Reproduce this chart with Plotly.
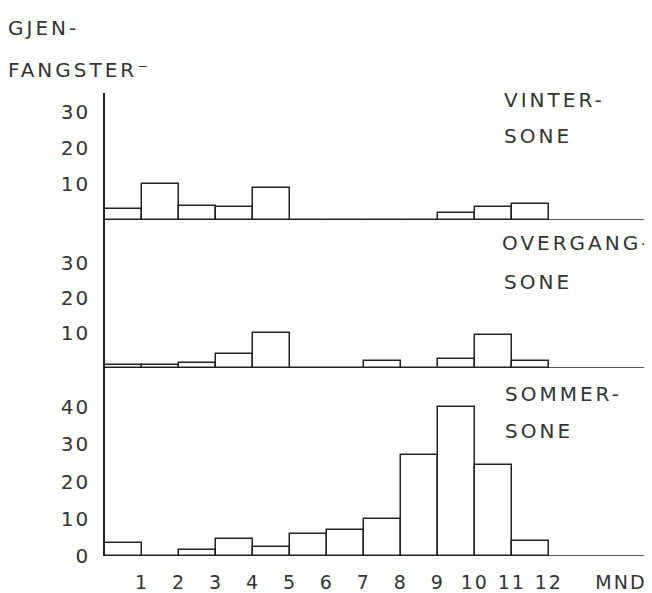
import plotly.graph_objects as go

months = list(range(1, 13))
tick_labels = [str(m) for m in months] + ["MND"]
vinter = [3, 10, 4, 3.5, 9, 0, 0, 0, 0, 2, 3.5, 4.5]
overgang = [1, 1, 1.5, 4, 10, 0, 0, 2, 0, 2.5, 9.5, 2]
sommer = [3.5, 0, 1.5, 4.5, 2.5, 6, 7, 10, 27, 40, 24.5, 4]
y_ticks_small = [10, 20, 30]
y_ticks_sommer = [0, 10, 20, 30, 40]

FONT = "DejaVu Sans"
TXT = "#333333"
LINE = "#222222"

# the page body adds an 8px offset; the figure is sized to fit inside it
OFF = 8
W, H = 652 - OFF, 593 - OFF

def fy(py):
    return 1 - (py - OFF) / H

fig = go.Figure()
for vals, ax in [(vinter, "y"), (overgang, "y2"), (sommer, "y3")]:
    fig.add_trace(go.Bar(
        x=[m - 0.5 for m in months], y=vals, width=1, xaxis="x", yaxis=ax,
        marker=dict(color="white", line=dict(color=LINE, width=1.5)),
        showlegend=False, hoverinfo="skip"))

def sp(t, s=3):
    return f'<span style="letter-spacing:{s}px">{t}</span>'

def yax(ticks):
    return dict(showline=True, linecolor=LINE, linewidth=1.5, showgrid=False,
                zeroline=False, ticks="outside", ticklen=9,
                tickcolor="rgba(0,0,0,0)", anchor="x", automargin=False,
                tickmode="array", tickvals=ticks,
                ticktext=[sp(str(t), 2) for t in ticks],
                tickfont=dict(family=FONT, size=20, color=TXT))

fig.update_layout(
    width=W, height=H,
    margin=dict(l=105 - OFF, r=W - (645 - OFF), t=0, b=0),
    paper_bgcolor="white", plot_bgcolor="white",
    bargap=0,
    xaxis=dict(range=[0, 14.6], anchor="y3", showgrid=False, zeroline=False,
               showline=False, tickmode="array", automargin=False,
               tickvals=months + [13.95],
               ticktext=[sp(t, 2) for t in tick_labels],
               ticks="outside", ticklen=9, tickcolor="rgba(0,0,0,0)",
               tickfont=dict(family=FONT, size=19, color=TXT)),
    yaxis=dict(domain=[fy(220), fy(93)], range=[0, 35.3],
               **yax(y_ticks_small)),
    yaxis2=dict(domain=[fy(368), fy(220)], range=[0, 42.3],
                **yax(y_ticks_small)),
    yaxis3=dict(domain=[fy(556), fy(368)], range=[0, 50.5],
                **yax(y_ticks_sommer)),
)

for ax in ["y", "y2", "y3"]:
    fig.add_shape(type="line", xref="paper", x0=0, x1=1, yref=ax, y0=0, y1=0,
                  line=dict(color=LINE, width=1.5))

def px2paper_x(px):
    return (px - 105) / 540

labels = [
    ("GJEN-", 6, 28),
    ("FANGSTER⁻", 6, 70),
    ("VINTER-", 502, 100),
    ("SONE", 502, 136),
    ("OVERGANG-", 500, 243),
    ("SONE", 502, 282),
    ("SOMMER-", 503, 394),
    ("SONE", 503, 431),
]
for t, x, y in labels:
    fig.add_annotation(text=sp(t), xref="paper", yref="paper",
                       x=px2paper_x(x), y=fy(y),
                       xanchor="left", yanchor="middle", showarrow=False,
                       font=dict(family=FONT, size=20, color=TXT))

fig.write_html("out.html")
